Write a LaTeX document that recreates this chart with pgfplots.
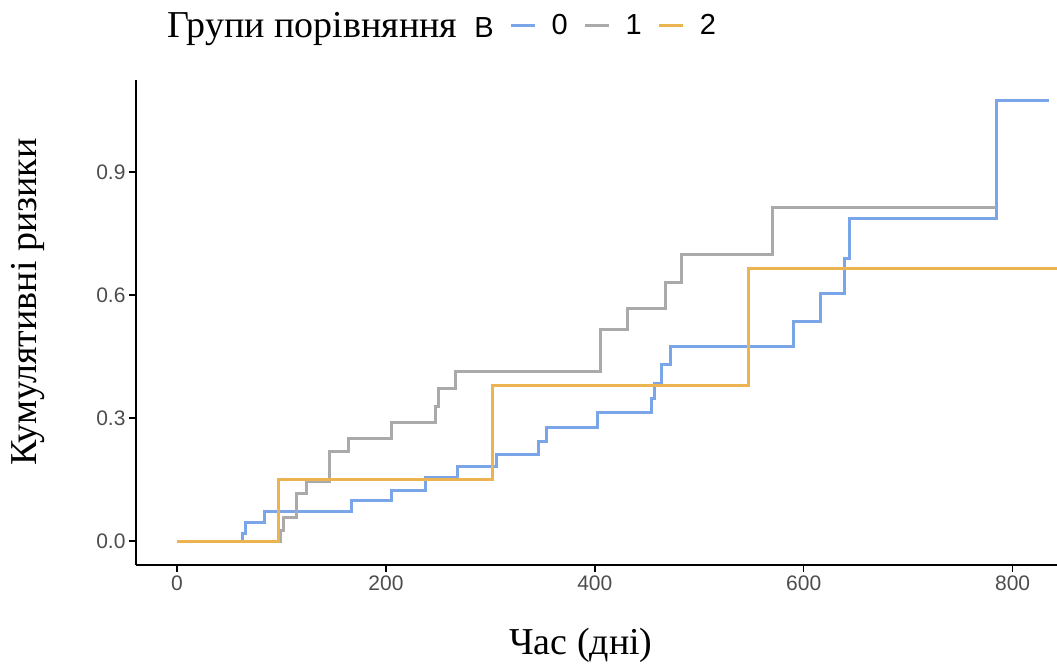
\documentclass[border=0pt]{standalone}
\usepackage{pgfplots}
\pgfplotsset{compat=1.18}
\usepackage{fontspec}
\setmainfont{Liberation Serif}
\setsansfont{Liberation Sans}
\definecolor{c0}{RGB}{122,165,232}
\definecolor{c1}{RGB}{170,170,170}
\definecolor{c2}{RGB}{235,180,80}
\definecolor{tickc}{RGB}{77,77,77}
\begin{document}
\begin{tikzpicture}
\useasboundingbox (-136pt,-101pt) rectangle (921pt,565pt);
\begin{axis}[at={(0pt,0pt)}, anchor=south west, scale only axis,
  width=921pt, height=485pt,
  xmin=-39.3, xmax=842.5, ymin=-0.0585, ymax=1.124,
  axis lines=left, axis line style={-, line width=1.4pt, black},
  xtick={0,200,400,600,800}, ytick={0,0.3,0.6,0.9},
  tick style={black, line width=1.4pt}, major tick length=7pt, tick align=outside,
  yticklabel style={/pgf/number format/fixed, /pgf/number format/fixed zerofill, /pgf/number format/precision=1},
  /pgf/number format/assume math mode=true,
  ticklabel style={font=\sffamily\fontsize{21}{21}\selectfont, text=tickc},
  xlabel={Час (дні)}, ylabel={Кумулятивні ризики},
  label style={font=\fontsize{38}{38}\selectfont},
  xlabel style={at={(axis description cs:0.483,-0.165)}, anchor=center},
  ylabel style={at={(axis description cs:-0.117,0.542)}, anchor=center},
  legend columns=-1,
  legend style={draw=none, fill=none, inner sep=0pt, at={(axis description cs:0.0174,1.145)}, anchor=north west,
    font=\sffamily\fontsize{29}{29}\selectfont,
    nodes={inner xsep=0pt},
    /tikz/every odd column/.append style={column sep=15pt},
    /tikz/every even column/.append style={column sep=16pt}},
  legend image code/.code={\draw[#1] (0pt,0pt) -- (24pt,0pt);},
]
\addlegendimage{empty legend}
\addlegendentry{{\rmfamily\fontsize{38}{38}\selectfont Групи порівняння}\hspace{17pt}{\sffamily\fontsize{29}{29}\selectfont \char"0042}}
\addplot[c0, line width=3pt, const plot mark left] coordinates {(0,0) (62.5,0.019) (65.7,0.045) (84,0.073) (166.6,0.098) (205,0.124) (237.4,0.156) (268.7,0.181) (305.4,0.212) (345.6,0.242) (353.9,0.276) (402.8,0.313) (453.8,0.348) (456.7,0.385) (464.3,0.430) (472.7,0.474) (590,0.535) (616.1,0.604) (639.2,0.688) (644.3,0.787) (784.1,1.074) (835,1.074)};
\addlegendentry{0}
\addplot[c1, line width=3pt, const plot mark left] coordinates {(0,0) (99.3,0.025) (102.4,0.058) (114.6,0.116) (124.2,0.145) (145.5,0.218) (164,0.25) (205,0.29) (247.5,0.328) (250.6,0.373) (266.5,0.413) (405.9,0.515) (431.3,0.568) (467.7,0.630) (483,0.698) (570,0.814) (784,0.814)};
\addlegendentry{1}
\addplot[c2, line width=3pt, const plot mark left] coordinates {(0,0) (97,0.151) (302.2,0.378) (547.6,0.664) (845,0.664)};
\addlegendentry{2}
\end{axis}
\end{tikzpicture}
\end{document}
